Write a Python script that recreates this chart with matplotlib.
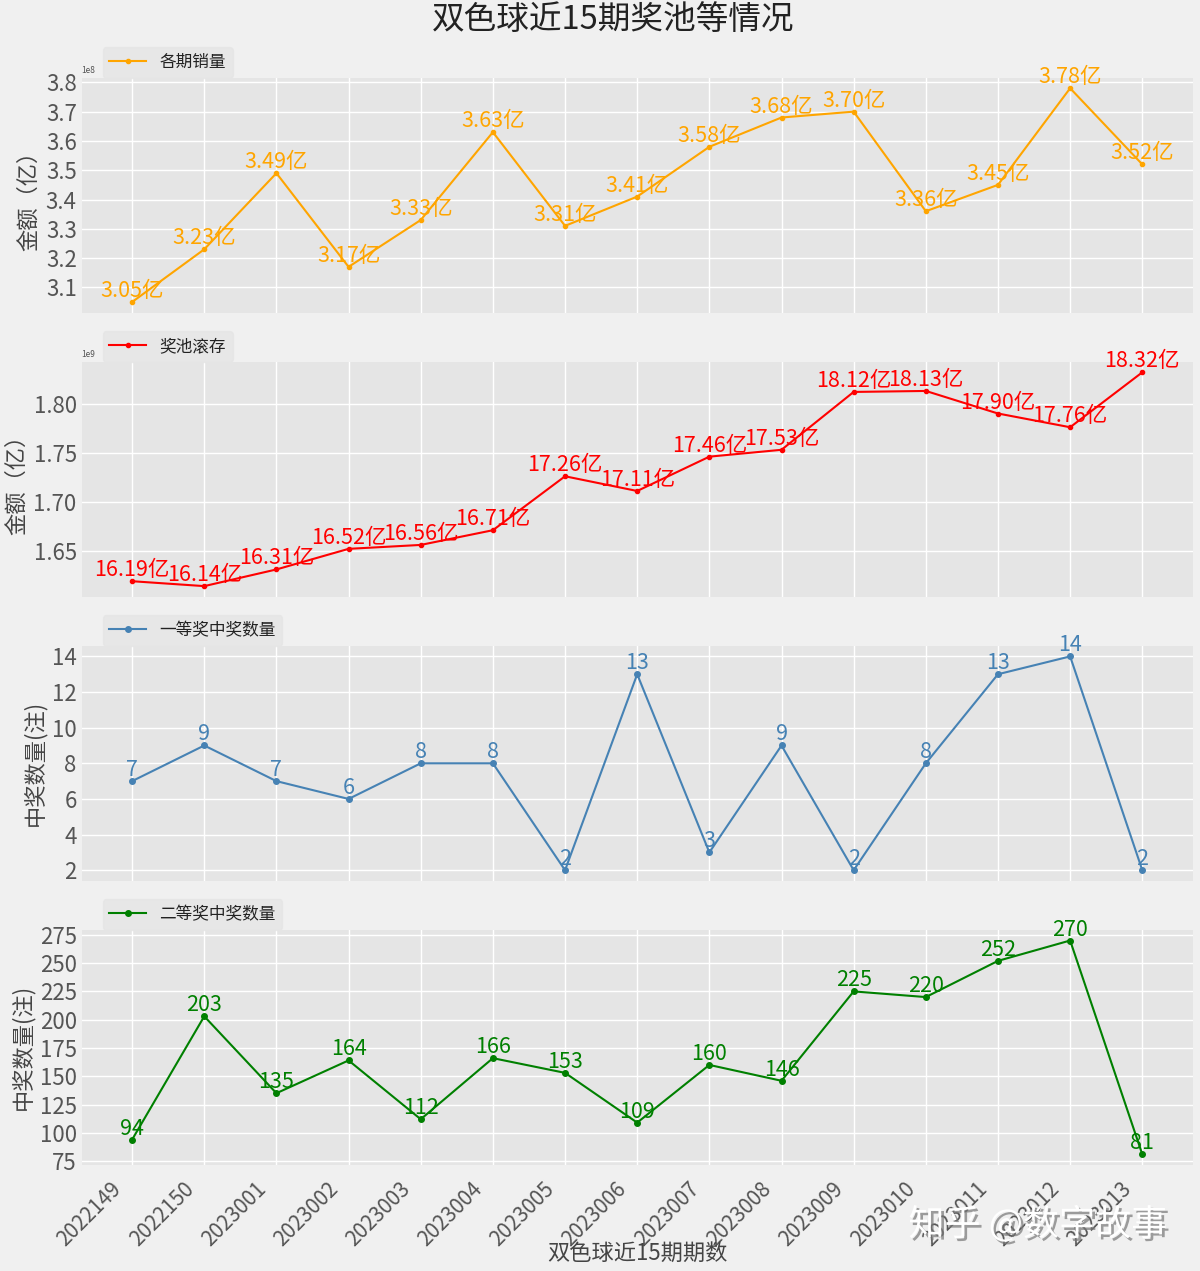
import matplotlib
matplotlib.use("Agg")
import matplotlib.pyplot as plt
import matplotlib.patheffects as pe
import matplotlib.transforms as mtransforms
from matplotlib.ticker import MultipleLocator

plt.rcParams['font.family'] = ['Noto Sans CJK SC', 'DejaVu Sans']
plt.rcParams['axes.unicode_minus'] = False

periods = ['2022149', '2022150', '2023001', '2023002', '2023003', '2023004', '2023005',
           '2023006', '2023007', '2023008', '2023009', '2023010', '2023011', '2023012', '2023013']
sales_yi = [3.05, 3.23, 3.49, 3.17, 3.33, 3.63, 3.31, 3.41, 3.58, 3.68, 3.70, 3.36, 3.45, 3.78, 3.52]
pool_yi = [16.19, 16.14, 16.31, 16.52, 16.56, 16.71, 17.26, 17.11, 17.46, 17.53, 18.12, 18.13, 17.90, 17.76, 18.32]
first_prize = [7, 9, 7, 6, 8, 8, 2, 13, 3, 9, 2, 8, 13, 14, 2]
second_prize = [94, 203, 135, 164, 112, 166, 153, 109, 160, 146, 225, 220, 252, 270, 81]

sales = [v * 1e8 for v in sales_yi]
pool = [v * 1e8 for v in pool_yi]

fig, axes = plt.subplots(4, 1, figsize=(12, 12.71), dpi=100, sharex=True)
fig.patch.set_facecolor('#f0f0f0')
fig.subplots_adjust(left=0.068, right=0.994, top=0.939, bottom=0.0834, hspace=0.208)

x = list(range(len(periods)))
series = [
    (sales, [f'{v:.2f}亿' for v in sales_yi], 'orange', '各期销量', '金额（亿）', 3, 0.1e8),
    (pool, [f'{v:.2f}亿' for v in pool_yi], 'red', '奖池滚存', '金额（亿）', 3, 0.05e9),
    (first_prize, [str(v) for v in first_prize], 'steelblue', '一等奖中奖数量', '中奖数量(注)', 4, 2),
    (second_prize, [str(v) for v in second_prize], 'green', '二等奖中奖数量', '中奖数量(注)', 4, 25),
]

for ax, (vals, labels, color, name, ylab, ms, step) in zip(axes, series):
    ax.set_facecolor('#e5e5e5')
    ax.plot(x, vals, color=color, marker='o', markersize=ms, linewidth=1.5, label=name)
    for xi, v, lab in zip(x, vals, labels):
        ax.text(xi, v, lab, ha='center', va='bottom', fontsize=15.5, color=color)
    ax.yaxis.set_major_locator(MultipleLocator(step))
    ax.grid(True, color='white', linewidth=1.0)
    ax.set_axisbelow(True)
    for s in ax.spines.values():
        s.set_visible(False)
    ax.tick_params(axis='both', length=0, labelsize=16, colors='#555555')
    ax.set_ylabel(ylab, fontsize=16, color='#444444')
    ax.yaxis.get_offset_text().set_fontsize(6)
    ax.yaxis.get_offset_text().set_color('#555555')
    leg = ax.legend(loc='lower left', bbox_to_anchor=(0.019, 1.0), borderaxespad=0,
                    fontsize=12, frameon=True, facecolor='#e5e5e5', edgecolor='#e5e5e5',
                    handlelength=2.2)
    for t in leg.get_texts():
        t.set_color('#222222')

axes[3].set_xticks(x)
axes[3].set_xticklabels(periods, rotation=45, ha='right')
axes[3].tick_params(axis='x', labelsize=15, pad=9)
offset = mtransforms.ScaledTranslation(-0.06, 0, fig.dpi_scale_trans)
for lbl in axes[3].get_xticklabels():
    lbl.set_transform(lbl.get_transform() + offset)
axes[3].set_xlabel('双色球近15期期数', fontsize=16, color='#444444')
axes[3].xaxis.set_label_coords(0.5, -0.325)

fig.suptitle('双色球近15期奖池等情况', fontsize=23.5, x=0.511, y=0.997, color='#222222')

fig.text(0.757, 0.028, '知乎 @数字故事', fontsize=26, color='white',
         path_effects=[pe.SimplePatchShadow(offset=(2, -2), shadow_rgbFace='#777777', alpha=0.7),
                       pe.Normal()])

fig.savefig('out.png', dpi=100, facecolor=fig.get_facecolor())
